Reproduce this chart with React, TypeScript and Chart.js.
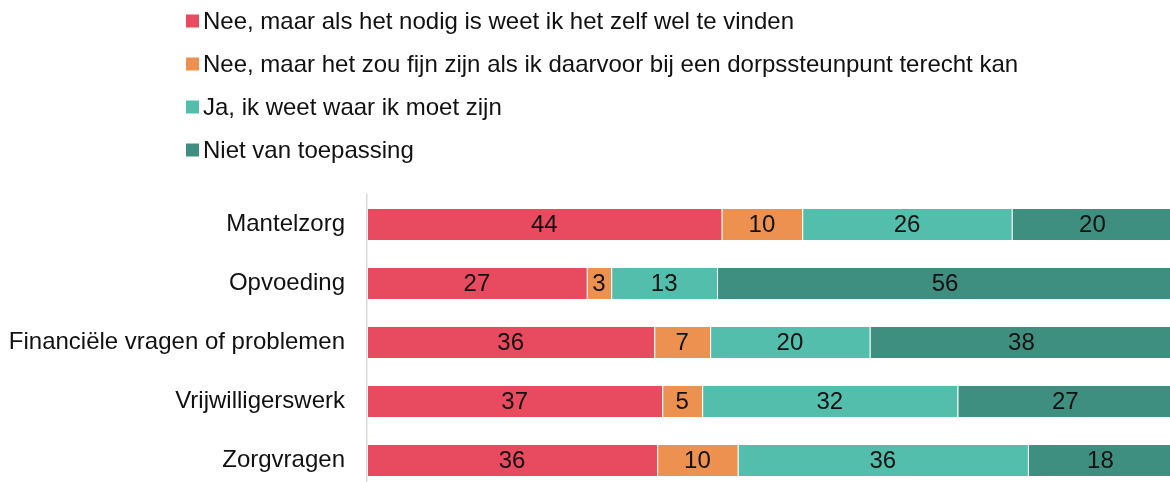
import React, { useEffect, useRef } from "react";
import { Chart, registerables } from "chart.js";

Chart.register(...registerables);

const categories = [
  "Mantelzorg",
  "Opvoeding",
  "Financiële vragen of problemen",
  "Vrijwilligerswerk",
  "Zorgvragen",
];

const seriesNames = [
  "Nee, maar als het nodig is weet ik het zelf wel te vinden",
  "Nee, maar het zou fijn zijn als ik daarvoor bij een dorpssteunpunt terecht kan",
  "Ja, ik weet waar ik moet zijn",
  "Niet van toepassing",
];

const neeZelf = [44, 27, 36, 37, 36];
const neeSteunpunt = [10, 3, 7, 5, 10];
const jaWeet = [26, 13, 20, 32, 36];
const nvt = [20, 56, 38, 27, 18];

const colors = ["#E84A5F", "#EC9150", "#53BEAC", "#3E8F80"];

const FONT = "'Liberation Sans', Arial, sans-serif";

export default function App() {
  const ref = useRef<HTMLCanvasElement | null>(null);

  useEffect(() => {
    if (!ref.current) return;
    const seriesValues = [neeZelf, neeSteunpunt, jaWeet, nvt];
    // 100% stacked: each bar is scaled to its own total
    const totals = categories.map((_, i) =>
      seriesValues.reduce((s, arr) => s + arr[i], 0)
    );
    const shares = seriesValues.map((arr) =>
      arr.map((v, i) => (v / totals[i]) * 100)
    );

    const labelPlugin = {
      id: "barLabels",
      afterDatasetsDraw(chart: any) {
        const ctx = chart.ctx;
        ctx.save();
        ctx.font = `24px ${FONT}`;
        ctx.fillStyle = "#111111";
        ctx.textAlign = "center";
        ctx.textBaseline = "middle";
        chart.data.datasets.forEach((ds: any, di: number) => {
          const meta = chart.getDatasetMeta(di);
          meta.data.forEach((el: any, i: number) => {
            const v = seriesValues[di][i];
            const cx = (el.x + el.base) / 2;
            ctx.fillText(String(v), cx, el.y + 1);
          });
        });
        ctx.restore();
      },
    };

    const legendPlugin = {
      id: "customLegend",
      afterDraw(chart: any) {
        const ctx = chart.ctx;
        ctx.save();
        ctx.font = `24px ${FONT}`;
        ctx.textBaseline = "middle";
        ctx.textAlign = "left";
        seriesNames.forEach((name, i) => {
          const cy = 21 + i * 43;
          ctx.fillStyle = colors[i];
          ctx.fillRect(186, cy - 6.5, 13, 13);
          ctx.fillStyle = "#111111";
          ctx.fillText(name, 203, cy + 1);
        });
        ctx.restore();
      },
    };

    const chart = new Chart(ref.current, {
      type: "bar",
      data: {
        labels: categories,
        datasets: shares.map((vals, i) => ({
          label: seriesNames[i],
          data: vals,
          backgroundColor: colors[i],
          borderColor: "rgba(255,255,255,0.3)",
          borderWidth: { left: 1, right: 0, top: 0, bottom: 0 },
          borderSkipped: false,
          barPercentage: 1,
          categoryPercentage: 0.525,
        })),
      },
      options: {
        indexAxis: "y",
        responsive: true,
        maintainAspectRatio: false,
        animation: false,
        layout: { padding: { top: 195, left: 0, right: 0, bottom: 0 } },
        plugins: {
          legend: { display: false },
          tooltip: { enabled: false },
        },
        scales: {
          x: {
            stacked: true,
            min: 0,
            max: 100,
            display: false,
          },
          y: {
            stacked: true,
            grid: { display: false, drawTicks: false },
            border: { display: true, color: "#d9d9d9", width: 1.5 },
            ticks: {
              padding: 22,
              color: "#111111",
              font: { family: FONT, size: 24 },
            },
            afterFit(scale: any) {
              scale.width = 367;
              scale.paddingTop = 0;
              scale.paddingBottom = 0;
            },
          },
        },
      },
      plugins: [labelPlugin, legendPlugin],
    });
    return () => chart.destroy();
  }, []);

  return (
    <div
      style={{
        position: "fixed",
        left: 0,
        top: 0,
        width: 1170,
        height: 482,
        overflow: "hidden",
        background: "#ffffff",
      }}
    >
      <div style={{ position: "relative", width: 1173, height: 490 }}>
        <canvas ref={ref} />
      </div>
    </div>
  );
}
